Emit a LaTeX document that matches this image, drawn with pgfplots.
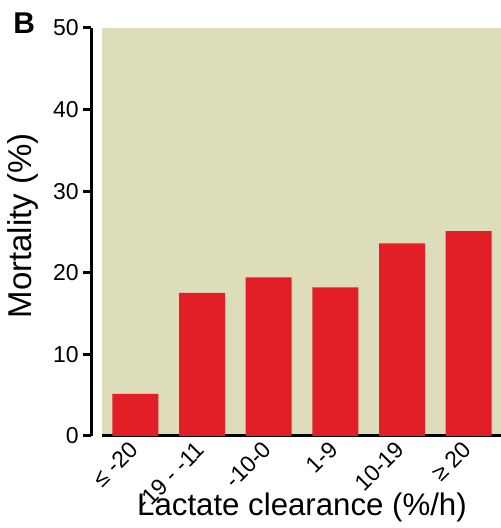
\documentclass[border=0pt]{standalone}
\usepackage{fontspec}
\setmainfont{Liberation Sans}
\usepackage{pgfplots}
\pgfplotsset{compat=1.18}
\definecolor{bgbeige}{RGB}{221,221,187}
\definecolor{barred}{RGB}{226,30,38}
\begin{document}
\begin{tikzpicture}
\useasboundingbox (-51pt,-46pt) rectangle (199pt,218pt);
\begin{axis}[
  at={(0,0)}, anchor=south west,
  scale only axis,
  width=200pt, height=204pt,
  xmin=-0.5, xmax=5.5,
  ymin=0, ymax=50,
  axis x line*=bottom,
  axis y line*=left,
  axis y line shift=5.5pt,
  axis line style={line width=1.5pt, black},
  axis background/.style={fill=bgbeige},
  ytick={0,10,20,30,40,50},
  xtick=data,
  xticklabels={{≤ -20},{-19 - -11},{-10-0},{1-9},{10-19},{≥ 20}},
  xtick style={draw=none},
  ytick style={line width=1.5pt, black},
  tick align=outside,
  major tick length=4pt,
  yticklabel style={font=\fontsize{11.5}{13}\selectfont, inner sep=2pt},
  xticklabel style={font=\fontsize{11.5}{13}\selectfont, rotate=45, anchor=east, inner sep=1pt},
  /pgf/number format/assume math mode=true,
  ylabel={Mortality (\%)},
  xlabel={Lactate clearance (\%/h)},
  ylabel style={font=\fontsize{16.5}{18}\selectfont, at={(axis description cs:-0.197,0.515)}, anchor=center},
  xlabel style={font=\fontsize{15.6}{18}\selectfont, at={(axis description cs:0.5,-0.196)}, anchor=base},
  ybar, bar width=23pt,
]
\addplot[fill=barred, draw=none] coordinates {(0,5.15) (1,17.55) (2,19.45) (3,18.2) (4,23.6) (5,25.1)};
\end{axis}
\node[anchor=base west, inner sep=0pt, font=\fontsize{15}{18}\selectfont\bfseries] at (-44.5pt,201pt) {B};
\end{tikzpicture}
\end{document}
